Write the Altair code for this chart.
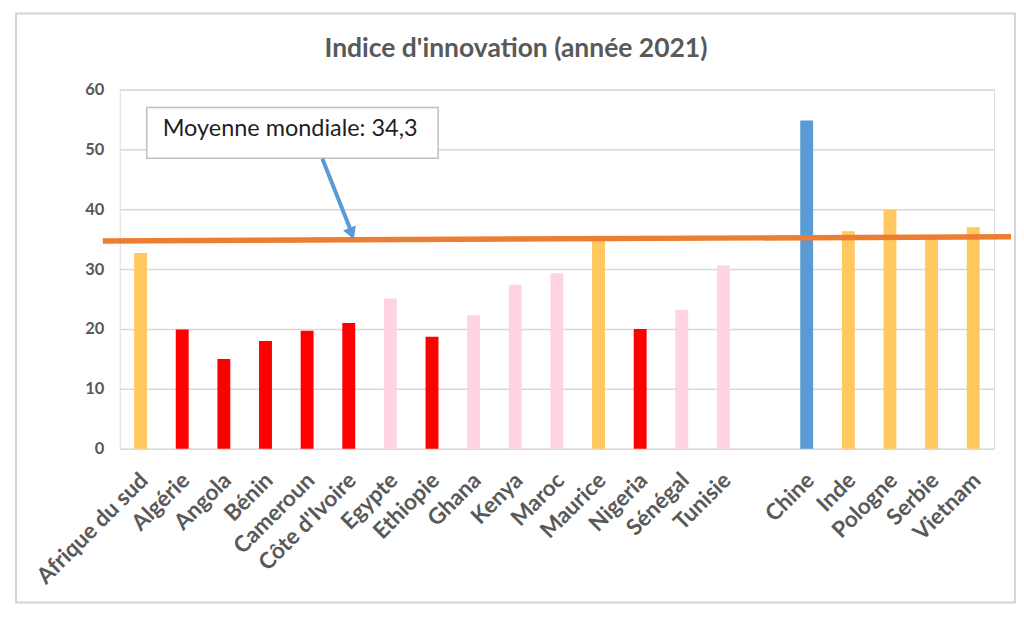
import altair as alt
import pandas as pd

# ---- data ----
pays = ["Afrique du sud", "Algérie", "Angola", "Bénin", "Cameroun", "Côte d'Ivoire",
        "Egypte", "Ethiopie", "Ghana", "Kenya", "Maroc", "Maurice", "Nigeria",
        "Sénégal", "Tunisie", "Chine", "Inde", "Pologne", "Serbie", "Vietnam"]
indice = [32.7, 19.9, 15.0, 18.0, 19.7, 21.0, 25.1, 18.7, 22.3, 27.4, 29.3, 35.0, 20.0,
          23.2, 30.6, 54.8, 36.3, 39.9, 35.0, 37.0]
groupe = ["orange", "rouge", "rouge", "rouge", "rouge", "rouge", "rose", "rouge", "rose",
          "rose", "rose", "orange", "rouge", "rose", "rose", "bleu", "orange", "orange",
          "orange", "orange"]
# x order with an empty slot between Africa and the others
ordre_x = pays[:15] + [" "] + pays[15:]
groupes = ["orange", "rouge", "rose", "bleu"]
couleurs = ["#FFC95F", "#FF0000", "#FFD3E4", "#5B9BD5"]
y_ticks = [0, 10, 20, 30, 40, 50, 60]
moyenne_label = "Moyenne mondiale: 34,3"
ligne_moyenne = [34.7, 35.4]  # drawn line (left end, right end)
titre = "Indice d'innovation (année 2021)"

df = pd.DataFrame({"pays": pays, "indice": indice, "groupe": groupe})
one = pd.DataFrame({"label": [moyenne_label], "titre": [titre]})

FONT = "Lato"
GRAY = "#595959"

x_enc = alt.X("pays:N", sort=ordre_x,
              scale=alt.Scale(domain=ordre_x, paddingInner=0.69, paddingOuter=0.345),
              axis=alt.Axis(title=None, labelAngle=-45, labelAlign="right",
                            labelBaseline="top", labelPadding=20, labelOffset=-4,
                            domain=False, ticks=False, tickSize=0, grid=False,
                            labelFont=FONT, labelFontWeight="bold", labelFontSize=22.5,
                            labelColor=GRAY))
y_scale = alt.Scale(domain=[0, 60], nice=False)

bars = alt.Chart(df).mark_bar().encode(
    x=x_enc,
    y=alt.Y("indice:Q", scale=y_scale,
            axis=alt.Axis(title=None, values=y_ticks, grid=True, gridColor="#D9D9D9",
                          gridWidth=1.5, domain=False, ticks=False, tickSize=0,
                          labelFont=FONT, labelFontWeight="bold", labelFontSize=16.5,
                          labelColor=GRAY, labelPadding=16)),
    color=alt.Color("groupe:N", scale=alt.Scale(domain=groupes, range=couleurs), legend=None),
)

# outer frame of the chart
frame = alt.Chart(one).mark_rect(fill="white", fillOpacity=0, stroke="#D4D4D4",
                                 strokeWidth=2).encode(
    x=alt.value(-104), x2=alt.value(897), y=alt.value(-76), y2=alt.value(514))

# title
titre_mark = alt.Chart(one).mark_text(align="center", baseline="alphabetic", font=FONT,
                                      fontSize=26.5, fontWeight="bold", color=GRAY).encode(
    x=alt.value(397), y=alt.value(-32), text="titre:N")

# world average line
ligne = alt.Chart(one).mark_rule(color="#ED7D31", strokeWidth=5.5).encode(
    x=alt.value(-17), x2=alt.value(893),
    y=alt.datum(ligne_moyenne[0], scale=y_scale), y2=alt.datum(ligne_moyenne[1]))

# annotation box
boite = alt.Chart(one).mark_rect(fill="white", stroke="#BFBFBF", strokeWidth=1.5).encode(
    x=alt.value(27), x2=alt.value(319), y=alt.value(18), y2=alt.value(69))
texte = alt.Chart(one).mark_text(align="left", baseline="alphabetic", font=FONT,
                                 fontSize=23.5, color="#1F1F1F").encode(
    x=alt.value(43), y=alt.value(47), text="label:N")

# arrow
fleche = alt.Chart(one).mark_rule(color="#5B9BD5", strokeWidth=4).encode(
    x=alt.value(203), y=alt.value(69.5), x2=alt.value(231), y2=alt.value(140))
pointe = alt.Chart(one).mark_point(shape="triangle-up", filled=True, color="#5B9BD5",
                                   size=190, angle=158.7, opacity=1).encode(
    x=alt.value(232.3), y=alt.value(144.5))

chart = alt.layer(frame, titre_mark, bars, ligne, boite, texte, fleche, pointe).properties(
    width=876, height=360,
    autosize=alt.AutoSizeParams(type="none"),
    padding={"left": 112, "top": 81, "right": 22, "bottom": 157},
).configure_view(stroke=None).configure(background="white")

chart.save("out.html", embed_options={"renderer": "svg", "actions": False})
